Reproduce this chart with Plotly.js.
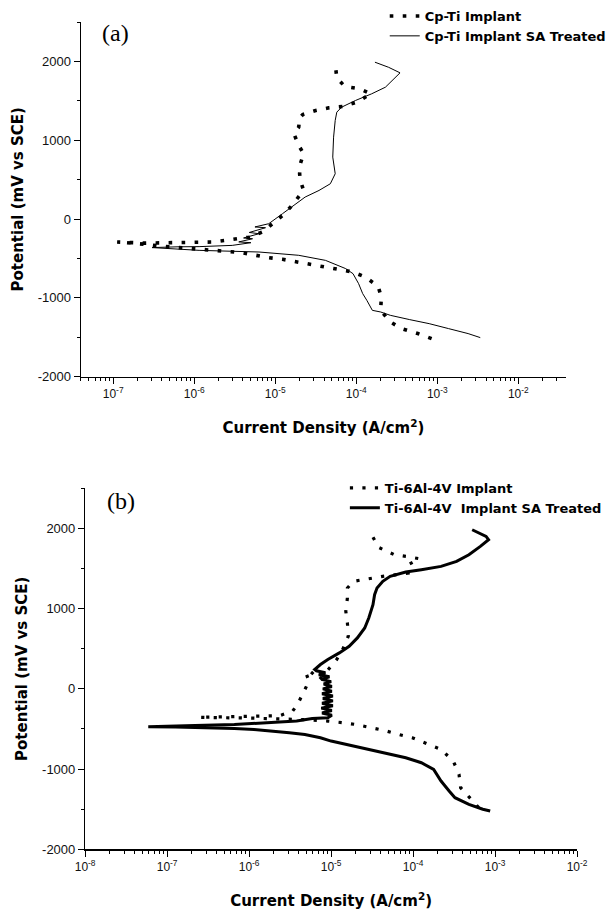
<!DOCTYPE html>
<html>
<head>
<meta charset="utf-8">
<script src="https://cdn.plot.ly/plotly-3.0.1.min.js"></script>
<style>html,body{margin:0;padding:0;background:#fff;}#chart{width:611px;height:914px;}</style>
</head>
<body>
<div id="chart"></div>
<script>
// ---------- Panel (a): Cp-Ti ----------
const aNames = ['Cp-Ti Implant', 'Cp-Ti Implant SA Treated'];
// Cp-Ti Implant (dotted) : current density (A/cm2), potential (mV vs SCE)
const aUntreatedCurrent = [8.51e-4, 5.75e-4, 3.63e-4, 2.63e-4, 2.0e-4, 2.04e-4, 1.86e-4, 1.29e-4, 9.12e-5, 5.50e-5,
  3.80e-5, 2.57e-5, 1.78e-5, 1.23e-5, 8.32e-6, 5.75e-6, 3.89e-6, 2.51e-6, 1.58e-6, 1.0e-6,
  6.31e-7, 3.98e-7, 2.51e-7, 1.58e-7, 1.12e-7,
  2.51e-7, 5.01e-7, 1.0e-6, 1.70e-6, 2.45e-6, 3.39e-6, 4.79e-6, 6.92e-6, 9.33e-6, 1.23e-5,
  1.55e-5, 1.95e-5, 2.24e-5, 2.04e-5, 2.0e-5, 2.04e-5, 2.24e-5, 1.95e-5, 1.70e-5, 1.95e-5,
  2.0e-5, 2.19e-5, 3.16e-5, 4.57e-5, 6.76e-5, 1.02e-4, 1.51e-4, 1.10e-4, 7.24e-5, 5.75e-5, 5.50e-5];
const aUntreatedPotential = [-1517, -1453, -1390, -1305, -1158, -989, -853, -735, -672, -629,
  -596, -566, -537, -511, -490, -460, -427, -410, -395, -380,
  -365, -345, -320, -300, -291,
  -305, -302, -300, -291, -270, -249, -228, -165, -59, 46,
  152, 279, 363, 490, 575, 701, 828, 934, 1082, 1166,
  1280, 1327, 1377, 1411, 1428, 1483, 1589, 1652, 1681, 1791, 1969];
// Cp-Ti Implant SA Treated (solid)
const aTreatedCurrent = [3.39e-3, 2.40e-3, 1.38e-3, 7.94e-4, 4.57e-4, 2.63e-4, 2.0e-4, 1.58e-4, 1.35e-4, 1.20e-4,
  1.07e-4, 9.12e-5, 7.41e-5, 4.17e-5, 1.95e-5, 6.31e-6, 1.15e-6, 5.01e-7, 3.02e-7,
  6.31e-7, 1.15e-6, 2.95e-6, 5.01e-6, 3.55e-6, 5.25e-6, 4.07e-6, 6.31e-6, 4.79e-6, 7.59e-6, 5.62e-6,
  8.32e-6, 1.23e-5, 1.78e-5, 2.34e-5, 3.47e-5, 4.79e-5, 5.50e-5, 5.13e-5, 5.25e-5, 5.50e-5,
  5.75e-5, 6.61e-5, 9.77e-5, 1.55e-4, 2.29e-4, 2.82e-4, 3.47e-4, 2.51e-4, 1.70e-4];
const aTreatedPotential = [-1504, -1453, -1390, -1327, -1276, -1221, -1179, -1158, -1031, -946,
  -820, -693, -629, -524, -460, -418, -397, -380, -362,
  -352, -350, -334, -300, -290, -250, -240, -186, -170, -110, -100,
  -59, 68, 194, 279, 363, 448, 575, 786, 1039, 1251,
  1356, 1420, 1504, 1589, 1673, 1760, 1855, 1925, 1990];

// ---------- Panel (b): Ti-6Al-4V ----------
const bNames = ['Ti-6Al-4V Implant', 'Ti-6Al-4V\u00a0\u00a0Implant SA Treated'];
const bUntreatedCurrent = [6.31e-4, 3.80e-4, 3.63e-4, 3.09e-4, 2.19e-4, 1.41e-4, 9.77e-5, 6.61e-5, 4.47e-5, 3.09e-5,
  2.0e-5, 1.41e-5, 9.12e-6, 5.01e-6, 2.51e-6, 1.0e-6, 5.01e-7, 2.45e-7,
  5.01e-7, 1.0e-6, 1.78e-6, 2.34e-6, 3.39e-6, 3.89e-6, 4.47e-6, 4.90e-6, 5.37e-6, 5.01e-6, 5.25e-6,
  6.31e-6, 7.08e-6, 7.94e-6, 1.0e-5, 1.17e-5, 1.41e-5, 1.62e-5, 1.58e-5, 1.51e-5, 1.58e-5,
  1.58e-5, 1.86e-5, 2.75e-5, 4.27e-5, 6.31e-5, 8.71e-5, 8.71e-5, 1.20e-4, 8.32e-5, 5.89e-5, 3.80e-5, 3.09e-5];
const bUntreatedPotential = [-1481, -1232, -1066, -900, -755, -672, -610, -568, -519, -485,
  -444, -423, -402, -385, -372, -364, -360, -355,
  -348, -345, -340, -335, -278, -195, -70, 12, 96, 180, 240,
  170, 110, 160, 280, 365, 510, 656, 822, 967, 1133,
  1257, 1340, 1373, 1402, 1423, 1444, 1548, 1622, 1650, 1672, 1763, 1929];
const bTreatedCurrent = [8.71e-4, 7.08e-4, 4.79e-4, 3.24e-4, 2.75e-4, 2.19e-4, 1.78e-4, 1.26e-4, 8.13e-5, 5.25e-5,
  3.39e-5, 2.19e-5, 1.41e-5, 1.0e-5, 7.41e-6, 4.79e-6, 3.09e-6, 2.0e-6, 1.15e-6, 6.61e-7,
  3.39e-7, 1.26e-7, 5.89e-8,
  1.26e-7, 2.19e-7, 6.61e-7, 2.0e-6, 3.80e-6, 5.89e-6, 9.12e-6,
  1.02e-5, 7.76e-6, 1.02e-5, 7.59e-6, 1.05e-5, 7.76e-6, 1.05e-5, 7.94e-6, 1.05e-5, 7.76e-6,
  1.02e-5, 7.94e-6, 1.02e-5, 8.13e-6, 1.0e-5, 7.59e-6, 9.55e-6, 7.08e-6, 8.51e-6, 6.61e-6, 6.31e-6,
  7.41e-6, 9.12e-6, 1.26e-5, 1.66e-5, 2.09e-5, 2.57e-5, 2.88e-5, 3.24e-5, 3.39e-5, 3.63e-5,
  4.27e-5, 5.25e-5, 8.13e-5, 1.26e-4, 2.19e-4, 3.39e-4, 4.79e-4, 6.61e-4, 8.32e-4, 7.76e-4, 5.25e-4];
const bTreatedPotential = [-1523, -1500, -1440, -1357, -1274, -1149, -1004, -921, -859, -817,
  -776, -726, -693, -651, -610, -568, -548, -527, -506, -494,
  -485, -477, -473,
  -468, -458, -444, -423, -402, -369, -361,
  -330, -300, -270, -240, -210, -180, -150, -120, -90, -60,
  -30, 0, 30, 60, 90, 120, 150, 175, 200, 225, 241,
  303, 365, 448, 531, 635, 759, 884, 1050, 1174, 1257,
  1340, 1402, 1456, 1485, 1527, 1589, 1672, 1776, 1859, 1900, 1983];

// ---------- Tick labels and texts ----------
const aXTickVals = [1e-7, 1e-6, 1e-5, 1e-4, 1e-3, 1e-2];
const aXTickText = ['10<sup>-7</sup>', '10<sup>-6</sup>', '10<sup>-5</sup>', '10<sup>-4</sup>', '10<sup>-3</sup>', '10<sup>-2</sup>'];
const bXTickVals = [1e-8, 1e-7, 1e-6, 1e-5, 1e-4, 1e-3, 1e-2];
const bXTickText = ['10<sup>-8</sup>', '10<sup>-7</sup>', '10<sup>-6</sup>', '10<sup>-5</sup>', '10<sup>-4</sup>', '10<sup>-3</sup>', '10<sup>-2</sup>'];
const yTickVals = [-2000, -1000, 0, 1000, 2000];
const yTickText = ['-2000', '-1000', '0', '1000', '2000'];
const panelLabels = ['(a)', '(b)'];
const xTitle = 'Current Density (A/cm<sup>2</sup>)';
const yTitle = 'Potential (mV vs SCE)';

const W = 611, H = 914;
const px = v => v / W;
const py = v => 1 - v / H;

const traces = [
  {x: aUntreatedCurrent, y: aUntreatedPotential, name: aNames[0], mode: 'lines', xaxis: 'x', yaxis: 'y', legend: 'legend',
   line: {color: '#000', width: 3.6, dash: '3.6px,9.4px'}},
  {x: aTreatedCurrent, y: aTreatedPotential, name: aNames[1], mode: 'lines', xaxis: 'x', yaxis: 'y', legend: 'legend',
   line: {color: '#000', width: 1}},
  {x: bUntreatedCurrent, y: bUntreatedPotential, name: bNames[0], mode: 'lines', xaxis: 'x2', yaxis: 'y2', legend: 'legend2',
   line: {color: '#000', width: 3.2, dash: '3.2px,9.3px'}},
  {x: bTreatedCurrent, y: bTreatedPotential, name: bNames[1], mode: 'lines', xaxis: 'x2', yaxis: 'y2', legend: 'legend2',
   line: {color: '#000', width: 3}}
];

const tickFont = {family: 'Liberation Sans, Arial, sans-serif', size: 12, color: '#111'};
const titleFont = {family: 'DejaVu Sans, sans-serif', size: 15, color: '#000', weight: 'bold'};
const legFont = {family: 'DejaVu Sans, sans-serif', size: 13, color: '#000', weight: 'bold'};
const labelFont = {family: 'Liberation Serif, Times New Roman, serif', size: 24, color: '#000'};

function xAxis(domain, range, vals, text, anchor) {
  return {type: 'log', domain: domain, range: range, anchor: anchor,
    showline: true, linecolor: '#000', linewidth: 1.2, showgrid: false, zeroline: false,
    ticks: 'outside', ticklen: 6, tickcolor: '#000', tickwidth: 1,
    tickmode: 'array', tickvals: vals, ticktext: text, tickfont: tickFont,
    minor: {dtick: 'D1', ticks: 'outside', ticklen: 3, tickcolor: '#000', tickwidth: 1, showgrid: false},
    title: {text: xTitle, font: titleFont, standoff: 22}};
}
function yAxis(domain, anchor) {
  return {domain: domain, range: [-2000, 2500], anchor: anchor,
    showline: true, linecolor: '#000', linewidth: 1.2, showgrid: false, zeroline: false,
    ticks: 'outside', ticklen: 6, tickcolor: '#000', tickwidth: 1,
    tickmode: 'array', tickvals: yTickVals, ticktext: yTickText,
    tickfont: {family: 'Liberation Sans, Arial, sans-serif', size: 13, color: '#111'},
    minor: {dtick: 500, tick0: 0, ticks: 'outside', ticklen: 3, tickcolor: '#000', tickwidth: 1, showgrid: false},
    title: {text: yTitle, font: titleFont, standoff: 10}};
}

const layout = {
  width: W, height: H, margin: {l: 0, r: 0, t: 0, b: 0},
  paper_bgcolor: '#fff', plot_bgcolor: '#fff',
  xaxis: xAxis([px(81), px(568)], [-7.4, -1.41], aXTickVals, aXTickText, 'y'),
  yaxis: yAxis([py(376.7), py(22)], 'x'),
  xaxis2: xAxis([px(85.4), px(579)], [-8, -2], bXTickVals, bXTickText, 'y2'),
  yaxis2: yAxis([py(849.3), py(488.3)], 'x2'),
  legend: {x: px(386), y: py(1), xanchor: 'left', yanchor: 'top', bgcolor: 'rgba(0,0,0,0)', font: legFont, tracegroupgap: 0},
  legend2: {x: px(346), y: py(473), xanchor: 'left', yanchor: 'top', bgcolor: 'rgba(0,0,0,0)', font: legFont, tracegroupgap: 0},
  showlegend: true,
  annotations: [
    {text: panelLabels[0], xref: 'paper', yref: 'paper', x: px(116), y: py(33), xanchor: 'center', yanchor: 'middle',
     showarrow: false, font: labelFont},
    {text: panelLabels[1], xref: 'paper', yref: 'paper', x: px(121), y: py(501), xanchor: 'center', yanchor: 'middle',
     showarrow: false, font: labelFont}
  ]
};

Plotly.newPlot('chart', traces, layout, {staticPlot: true, displayModeBar: false});
</script>
</body>
</html>
